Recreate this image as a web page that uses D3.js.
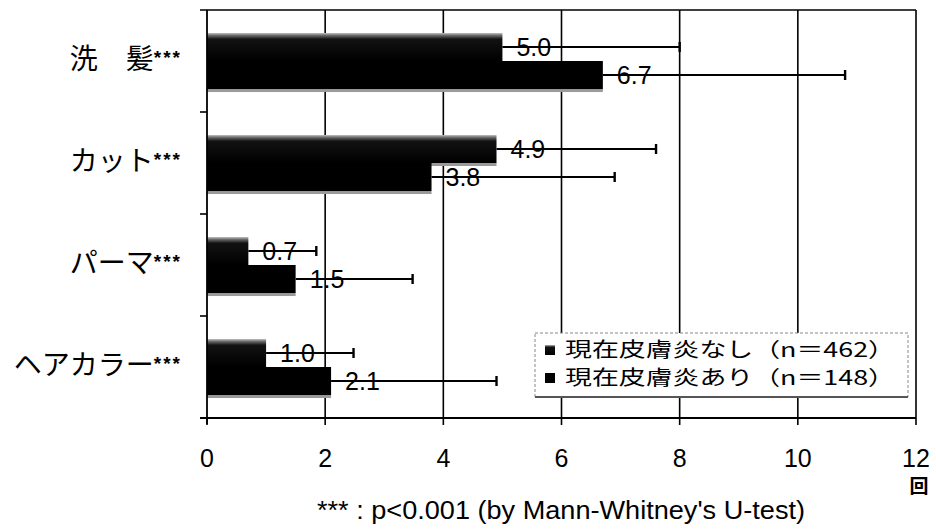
<!DOCTYPE html>
<html><head><meta charset="utf-8">
<script src="https://cdn.jsdelivr.net/npm/d3@7"></script>
<style>body{margin:0;background:#fff}svg{display:block}</style>
</head><body>
<svg id="c" width="936" height="530"></svg>
<script>
const categories = ["洗　髪", "カット", "パーマ", "ヘアカラー"];
const seriesNames = ["現在皮膚炎なし（n＝462）", "現在皮膚炎あり（n＝148）"];
const meansNone = [5.0, 4.9, 0.7, 1.0];
const meansWith = [6.7, 3.8, 1.5, 2.1];
const errEndNone = [8.0, 7.6, 1.85, 2.48];
const errEndWith = [10.8, 6.9, 3.48, 4.9];
const xTicks = [0, 2, 4, 6, 8, 10, 12];
const sig = "***";
const xUnit = "回";
const footnote = "*** : p<0.001 (by Mann-Whitney's U-test)";

const svg = d3.select("#c");
const defs = svg.append("defs");
const g1 = defs.append("linearGradient").attr("id","gNone").attr("x1",0).attr("y1",0).attr("x2",0).attr("y2",1);
g1.append("stop").attr("offset","0%").attr("stop-color","#c4c4c4");
g1.append("stop").attr("offset","8%").attr("stop-color","#707070");
g1.append("stop").attr("offset","22%").attr("stop-color","#121212");
g1.append("stop").attr("offset","100%").attr("stop-color","#000");

const x = d3.scaleLinear().domain([0,12]).range([207,916]);
const y0 = d3.scaleBand().domain(categories).range([10,418]).padding(0);
const y1 = d3.scaleBand().domain([0,1]).range([0,y0.bandwidth()]).paddingInner(0).paddingOuter(0.82);

const data = categories.map((c,i)=>({c, vals:[
  {s:0, m:meansNone[i], e:errEndNone[i]},
  {s:1, m:meansWith[i], e:errEndWith[i]}]}));

// gridlines
svg.append("g").selectAll("line").data(xTicks.filter(t=>t>0)).join("line")
  .attr("x1",d=>x(d)).attr("x2",d=>x(d)).attr("y1",10).attr("y2",418)
  .attr("stroke","#000").attr("stroke-width",1.6);
// top border
svg.append("line").attr("x1",200).attr("x2",x(12)).attr("y1",10).attr("y2",10).attr("stroke","#000").attr("stroke-width",1.4);

const grp = svg.append("g").selectAll("g").data(data).join("g")
  .attr("transform",d=>`translate(0,${y0(d.c)})`);
// bar shadows
grp.selectAll("rect.sh").data(d=>d.vals).join("rect").attr("class","sh")
  .attr("x",x(0)).attr("y",d=>y1(d.s)+y1.bandwidth()).attr("width",d=>x(d.m)-x(0)).attr("height",3)
  .attr("fill","#9a9a9a");
grp.selectAll("rect.bar").data(d=>d.vals).join("rect").attr("class","bar")
  .attr("x",x(0)).attr("y",d=>y1(d.s)).attr("width",d=>x(d.m)-x(0)).attr("height",y1.bandwidth())
  .attr("fill",d=>d.s===0?"url(#gNone)":"#000");
// value labels
grp.selectAll("text.v").data(d=>d.vals).join("text").attr("class","v")
  .attr("x",d=>x(d.m)+14).attr("y",d=>y1(d.s)+y1.bandwidth()/2+9)
  .attr("font-family","Liberation Sans, Arial, sans-serif").attr("font-size",25).attr("fill","#000")
  .text(d=>d.m.toFixed(1));
// error bars
grp.selectAll("line.e").data(d=>d.vals).join("line").attr("class","e")
  .attr("x1",d=>x(d.m)).attr("x2",d=>x(d.e))
  .attr("y1",d=>y1(d.s)+y1.bandwidth()/2).attr("y2",d=>y1(d.s)+y1.bandwidth()/2)
  .attr("stroke","#000").attr("stroke-width",2);
grp.selectAll("line.cap").data(d=>d.vals).join("line").attr("class","cap")
  .attr("x1",d=>x(d.e)).attr("x2",d=>x(d.e))
  .attr("y1",d=>y1(d.s)+y1.bandwidth()/2-5).attr("y2",d=>y1(d.s)+y1.bandwidth()/2+5)
  .attr("stroke","#000").attr("stroke-width",2.4);

// axes
svg.append("line").attr("x1",x(0)).attr("x2",x(0)).attr("y1",10).attr("y2",424).attr("stroke","#000").attr("stroke-width",1.8);
svg.append("line").attr("x1",200).attr("x2",x(12)).attr("y1",418).attr("y2",418).attr("stroke","#000").attr("stroke-width",1.8);
svg.append("g").selectAll("line").data(xTicks).join("line")
  .attr("x1",d=>x(d)).attr("x2",d=>x(d)).attr("y1",418).attr("y2",425).attr("stroke","#000").attr("stroke-width",1.6);
svg.append("g").selectAll("line").data(categories.slice(1)).join("line")
  .attr("x1",200).attr("x2",x(0)).attr("y1",d=>y0(d)).attr("y2",d=>y0(d)).attr("stroke","#000").attr("stroke-width",1.6);

svg.append("g").selectAll("text").data(xTicks).join("text")
  .attr("x",d=>x(d)).attr("y",467).attr("text-anchor","middle")
  .attr("font-family","Liberation Sans, Arial, sans-serif").attr("font-size",25).text(d=>d);
svg.append("text").attr("x",x(12)+3).attr("y",493).attr("text-anchor","middle")
  .attr("font-family","Noto Sans CJK JP").attr("font-size",19).attr("font-weight","bold").text(xUnit);

// category labels
const cl = svg.append("g").selectAll("text").data(categories).join("text")
  .attr("x",182).attr("y",d=>y0(d)+y0.bandwidth()/2+8).attr("text-anchor","end")
  .attr("font-family","Noto Sans CJK JP").attr("font-size",28).attr("fill","#000");
cl.append("tspan").text(d=>d);
cl.append("tspan").attr("font-family","Liberation Sans, Arial").attr("font-size",19).attr("font-weight","bold")
  .attr("letter-spacing",2).attr("dy",-5).text(sig);

// legend
const lg = svg.append("g");
lg.append("rect").attr("x",535).attr("y",333).attr("width",373).attr("height",64)
  .attr("fill","#fff").attr("stroke","#888").attr("stroke-width",1).attr("stroke-dasharray","3,2");
lg.append("line").attr("x1",535).attr("x2",908).attr("y1",397).attr("y2",397).attr("stroke","#555").attr("stroke-width",2);
const li = lg.selectAll("g").data(seriesNames).join("g").attr("transform",(d,i)=>`translate(545,${350+i*28})`);
li.append("rect").attr("x",0).attr("y",-5).attr("width",10).attr("height",10).attr("fill",(d,i)=>i===0?"url(#gNone)":"#000");
li.append("text").attr("x",20).attr("y",7).attr("font-family","Noto Sans CJK JP").attr("font-size",20)
  .attr("textLength",330).attr("lengthAdjust","spacingAndGlyphs").text(d=>d);

svg.append("text").attr("x",317).attr("y",519)
  .attr("font-family","Liberation Sans, Arial, sans-serif").attr("font-size",25)
  .attr("textLength",488).attr("lengthAdjust","spacingAndGlyphs").text(footnote);
</script>
</body></html>
